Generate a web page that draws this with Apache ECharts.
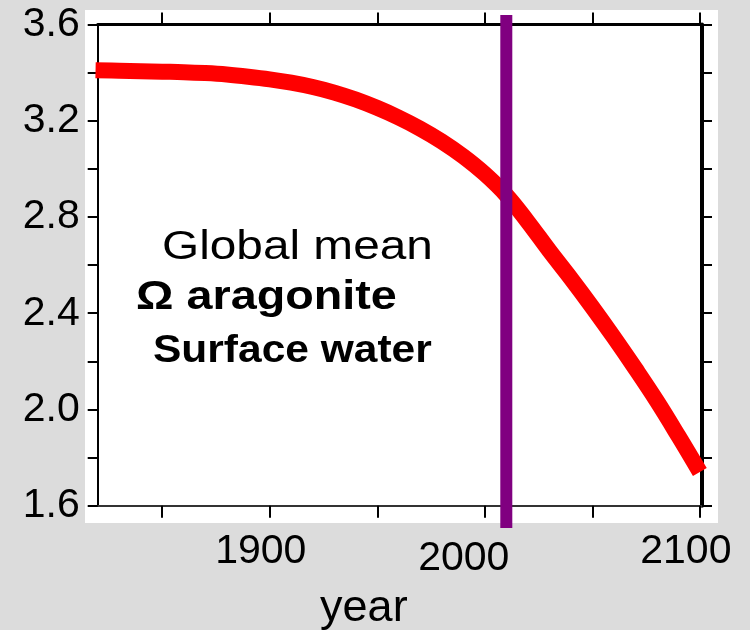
<!DOCTYPE html>
<html>
<head>
<meta charset="utf-8">
<script src="https://cdn.jsdelivr.net/npm/echarts@6/dist/echarts.min.js"></script>
<style>
  html, body { margin: 0; padding: 0; background: #dcdcdc; }
  #chart { width: 750px; height: 630px; }
</style>
</head>
<body>
<div id="chart"></div>
<script>
// Global mean surface-water aragonite saturation state, 1819-2100
const years = [1819, 1830, 1840, 1850, 1860, 1870, 1880, 1890, 1900, 1910, 1920, 1930,
               1940, 1950, 1960, 1970, 1980, 1990, 2000, 2010, 2020, 2030, 2040, 2050,
               2060, 2070, 2080, 2090, 2100];
const omegaArag = [3.41, 3.408, 3.406, 3.404, 3.402, 3.398, 3.392, 3.383, 3.372, 3.358, 3.34, 3.317,
                   3.288, 3.253, 3.213, 3.167, 3.114, 3.052, 2.979, 2.891, 2.78, 2.66, 2.545, 2.425,
                   2.30, 2.17, 2.035, 1.89, 1.74];

// present-day marker (vertical bar)
const markerYear = 2010;
const markerSpan = [1.507, 3.64];

// axis ticks and labels
const xTickYears = [1850, 1900, 1950, 2000, 2050, 2100];
const xLabelYears = [1900, 2000, 2100];
const yMin = 1.6, yMax = 3.6, yStep = 0.2;

const annotation = ['Global mean', 'Ω aragonite', 'Surface water'];

const chart = echarts.init(document.getElementById('chart'));
const FONT = '"Liberation Sans", Arial, Helvetica, sans-serif';

const lineData = years.map((y, i) => [y, omegaArag[i]]);

const option = {
  backgroundColor: '#dcdcdc',
  animation: false,
  grid: { left: 97.7, right: 48, top: 24.5, bottom: 124.3, containLabel: false, outerBoundsMode: 'none' },
  graphic: [
    { type: 'rect', z: -10, shape: { x: 85, y: 10, width: 633, height: 513 }, style: { fill: '#ffffff' } },
    { type: 'text', x: 162, y: 227, scaleX: 1.165, z: 10,
      style: { text: annotation[0], font: 'normal 41px ' + FONT, fill: '#000' } },
    { type: 'text', x: 136, y: 277, scaleX: 1.14, z: 10,
      style: { text: annotation[1], font: 'bold 41px ' + FONT, fill: '#000' } },
    { type: 'text', x: 153, y: 332, scaleX: 1.09, z: 10,
      style: { text: annotation[2], font: 'bold 39px ' + FONT, fill: '#000' } }
  ],
  xAxis: [
    {
      type: 'value', position: 'bottom', min: 1820, max: 2101,
      splitLine: { show: false },
      axisLine: { show: true, onZero: false, lineStyle: { color: '#333', width: 2 } },
      axisTick: { show: true, inside: false, length: 12, customValues: xTickYears,
                  lineStyle: { color: '#000', width: 2 } },
      axisLabel: {
        customValues: xLabelYears, margin: 25, color: '#000',
        fontFamily: FONT, fontSize: 41,
        formatter: v => '{y' + v + '|' + v + '}',
        rich: {
          y1900: { fontSize: 41, fontFamily: FONT, color: '#000', padding: [0, 18, 0, 0] },
          y2000: { fontSize: 41, fontFamily: FONT, color: '#000', padding: [7, 42, 0, 0] },
          y2100: { fontSize: 41, fontFamily: FONT, color: '#000', padding: [0, 28, 0, 0] }
        }
      },
      name: 'year', nameLocation: 'middle', nameGap: 80,
      nameTextStyle: { fontFamily: FONT, fontSize: 45, color: '#000', padding: [0, 72, 0, 0] }
    },
    {
      type: 'value', position: 'top', min: 1820, max: 2101,
      splitLine: { show: false },
      axisLine: { show: true, onZero: false, lineStyle: { color: '#000', width: 3 } },
      axisTick: { show: true, inside: false, length: 12, customValues: xTickYears,
                  lineStyle: { color: '#000', width: 2 } },
      axisLabel: { show: false }
    }
  ],
  yAxis: [
    {
      type: 'value', position: 'left', min: yMin, max: yMax, interval: yStep,
      splitLine: { show: false },
      axisLine: { show: true, onZero: false, lineStyle: { color: '#000', width: 2 } },
      axisTick: { show: true, inside: false, length: 10, lineStyle: { color: '#000', width: 2 } },
      axisLabel: {
        margin: 18, color: '#000', fontFamily: FONT, fontSize: 41,
        formatter: v => (Math.round(v * 10) % 4 === 0 ? v.toFixed(1) : '')
      }
    },
    {
      type: 'value', position: 'right', min: yMin, max: yMax, interval: yStep,
      splitLine: { show: false },
      axisLine: { show: true, onZero: false, lineStyle: { color: '#000', width: 4 } },
      axisTick: { show: true, inside: false, length: 10, lineStyle: { color: '#000', width: 2 } },
      axisLabel: { show: false }
    }
  ],
  series: [
    {
      type: 'line', xAxisIndex: 0, yAxisIndex: 0, data: lineData,
      smooth: 0.4, showSymbol: false, symbol: 'none', clip: false, z: 3,
      lineStyle: { color: '#ff0000', width: 16, cap: 'butt', join: 'round' }
    },
    {
      type: 'line', xAxisIndex: 0, yAxisIndex: 0,
      data: markerSpan.map(v => [markerYear, v]),
      showSymbol: false, symbol: 'none', clip: false, z: 4,
      lineStyle: { color: '#800080', width: 12, cap: 'butt' }
    }
  ]
};

chart.setOption(option);
</script>
</body>
</html>
